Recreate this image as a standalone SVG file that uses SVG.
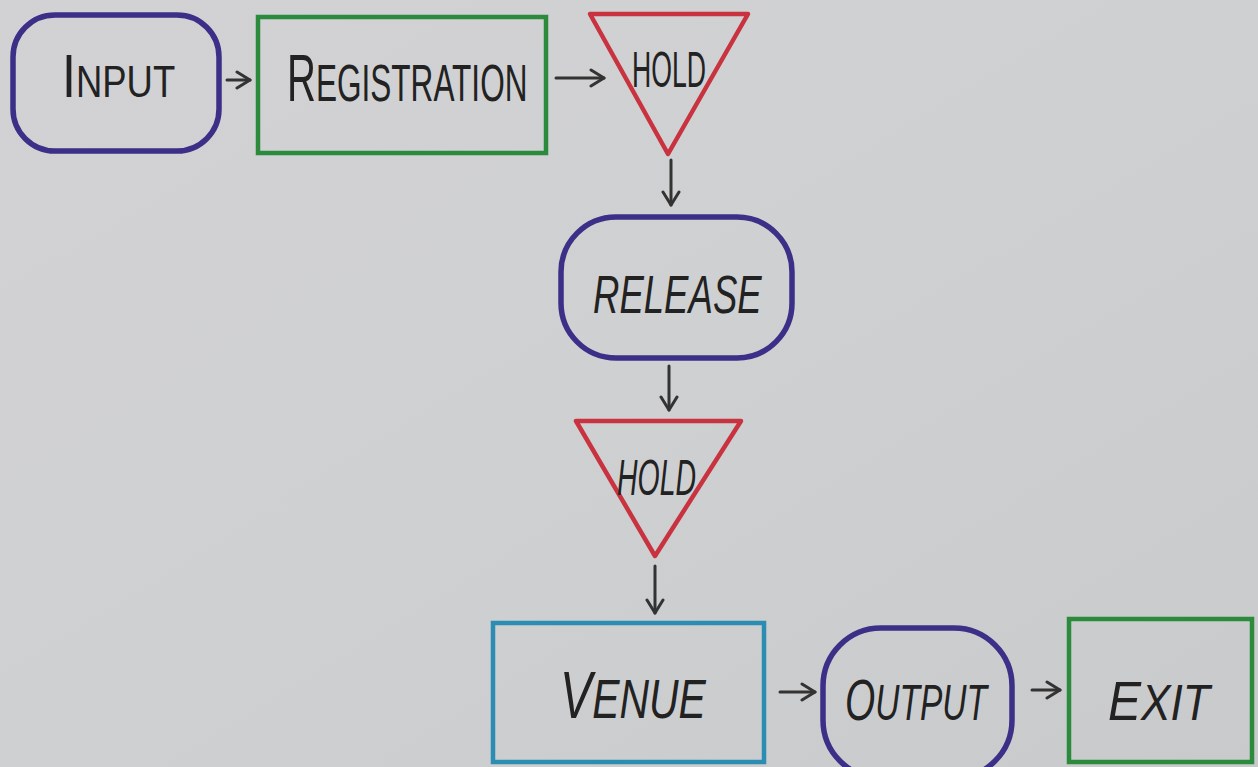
<svg xmlns="http://www.w3.org/2000/svg" width="1258" height="767" viewBox="0 0 1258 767">
<defs>
<linearGradient id="bg" x1="0" y1="0" x2="1" y2="1">
<stop offset="0" stop-color="#d2d2d4"/>
<stop offset="0.5" stop-color="#cfd0d2"/>
<stop offset="1" stop-color="#c9cacc"/>
</linearGradient>
<marker id="ah" viewBox="0 0 20 20" refX="17" refY="10" markerWidth="20" markerHeight="20" markerUnits="userSpaceOnUse" orient="auto">
<path d="M4,2 L17,10 L4,18" fill="none" stroke="#333" stroke-width="3" stroke-linecap="round" stroke-linejoin="round"/>
</marker>
<style>
.blue{fill:none;stroke:#3b2f88;stroke-width:5.5}
.green{fill:none;stroke:#2b8a3c;stroke-width:4.5}
.red{fill:none;stroke:#c8333f;stroke-width:4.5;stroke-linejoin:round}
.teal{fill:none;stroke:#2c8db3;stroke-width:4.5}
.lbl{font-family:"Liberation Sans",Arial,sans-serif;fill:#222;font-weight:normal}
.ital{font-style:italic}
.conn{fill:none;stroke:#333;stroke-width:3;stroke-linecap:round}
</style>
</defs>
<rect width="1258" height="767" fill="url(#bg)"/>

<g id="connectors">
<line class="conn" x1="227" y1="80" x2="250" y2="80" marker-end="url(#ah)"/>
<line class="conn" x1="556" y1="78" x2="604" y2="78" marker-end="url(#ah)"/>
<line class="conn" x1="671" y1="160" x2="671" y2="205" marker-end="url(#ah)"/>
<line class="conn" x1="669" y1="366" x2="669" y2="410" marker-end="url(#ah)"/>
<line class="conn" x1="655" y1="566" x2="655" y2="613" marker-end="url(#ah)"/>
<line class="conn" x1="780" y1="692" x2="815" y2="692" marker-end="url(#ah)"/>
<line class="conn" x1="1032" y1="690" x2="1060" y2="690" marker-end="url(#ah)"/>
</g>

<g id="input">
<rect class="blue" x="13" y="15" width="206" height="136" rx="42"/>
<text class="lbl" transform="translate(62,97) scale(0.81,1)"><tspan font-size="62">I</tspan><tspan font-size="45">NPUT</tspan></text>
</g>

<g id="registration">
<rect class="green" x="258" y="17" width="288" height="136"/>
<text class="lbl" transform="translate(287,101) scale(0.607,1)"><tspan font-size="66">R</tspan><tspan font-size="52">EGISTRATION</tspan></text>
</g>

<g id="hold1">
<polygon class="red" points="590,14 748,14 668,154"/>
<text class="lbl" transform="translate(632,87) scale(0.533,1)" font-size="50">HOLD</text>
</g>

<g id="release">
<rect class="blue" x="561" y="217" width="231" height="141" rx="55"/>
<text class="lbl ital" transform="translate(593,313) scale(0.69,1)" font-size="53">RELEASE</text>
</g>

<g id="hold2">
<polygon class="red" points="576,421 741,421 655,556"/>
<text class="lbl ital" transform="translate(617,495) scale(0.569,1)" font-size="50">HOLD</text>
</g>

<g id="venue">
<rect class="teal" x="493" y="623" width="271" height="139"/>
<text class="lbl ital" transform="translate(560,718) scale(0.73,1)"><tspan font-size="66">V</tspan><tspan font-size="56">ENUE</tspan></text>
</g>

<g id="output">
<rect class="blue" x="823" y="628" width="189" height="150" rx="58"/>
<text class="lbl ital" transform="translate(845,720) scale(0.67,1)"><tspan font-size="58">O</tspan><tspan font-size="50">UTPUT</tspan></text>
</g>

<g id="exit">
<rect class="green" x="1069" y="619" width="183" height="143"/>
<text class="lbl ital" transform="translate(1108,720) scale(0.885,1)"><tspan font-size="56">E</tspan><tspan font-size="50">XIT</tspan></text>
</g>
</svg>
